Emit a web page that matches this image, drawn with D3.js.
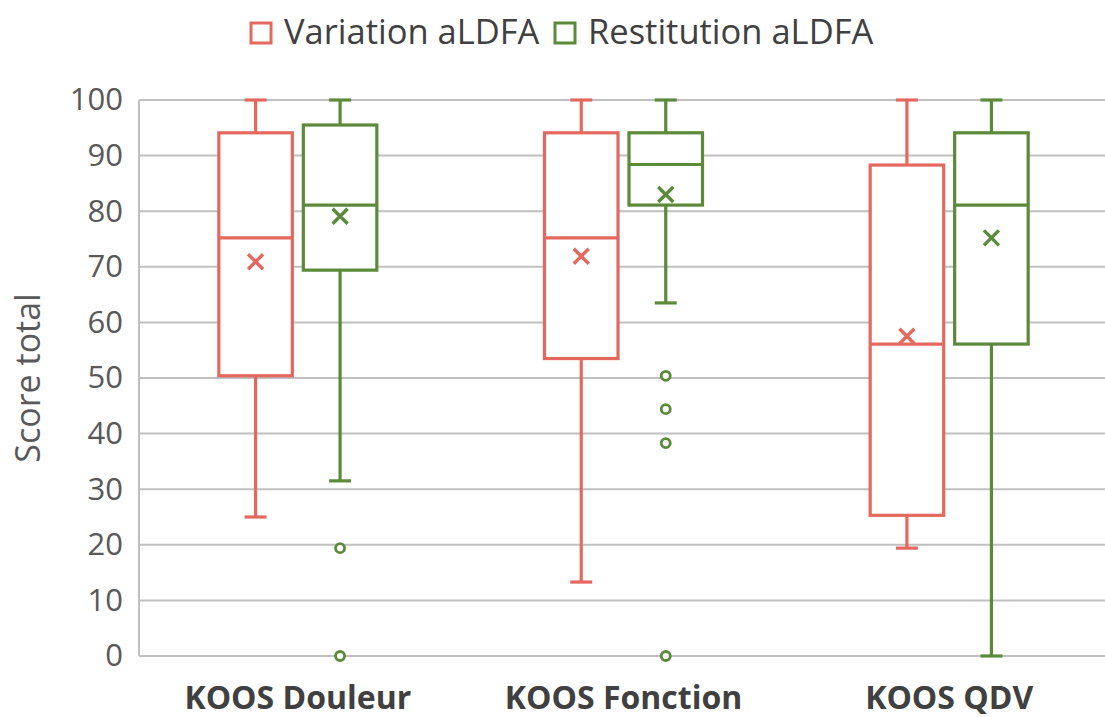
<!DOCTYPE html>
<html><head><meta charset="utf-8">
<script src="https://cdn.jsdelivr.net/npm/d3@7"></script>
<style>body{margin:0;background:#fff;} svg{display:block;}</style>
</head><body>
<script>
const categories = ["KOOS Douleur", "KOOS Fonction", "KOOS QDV"];
const seriesNames = ["Variation aLDFA", "Restitution aLDFA"];
const seriesColors = ["#E5685F", "#5A8A3A"];
// [min whisker, Q1, median, Q3, max whisker]
const variationStats = [[25, 50.4, 75.2, 94.1, 100], [13.3, 53.5, 75.2, 94.1, 100], [19.4, 25.3, 56.1, 88.3, 100]];
const restitutionStats = [[31.5, 69.4, 81.1, 95.5, 100], [63.5, 81.1, 88.4, 94.1, 100], [0, 56.1, 81.1, 94.1, 100]];
const variationMeans = [70.9, 71.9, 57.5];
const restitutionMeans = [79.1, 83.0, 75.2];
const variationOutliers = [[], [], []];
const restitutionOutliers = [[19.4, 0], [50.4, 44.4, 38.3, 0], []];
const yTicks = [0, 10, 20, 30, 40, 50, 60, 70, 80, 90, 100];

const W = 1105, H = 717;
const FONT = "'Open Sans', 'Noto Sans', sans-serif";
const svg = d3.select("body").append("svg").attr("width", W).attr("height", H)
  .style("font-family", FONT);

const x = d3.scaleBand().domain(categories).range([135, 1112]).padding(0);
const y = d3.scaleLinear().domain([0, 100]).range([656, 100]);
const half = 79;
const sub = d3.scaleBand().domain(seriesNames)
  .range([x.bandwidth() / 2 - half, x.bandwidth() / 2 + half]).paddingInner(0.13).paddingOuter(0);

// gridlines
svg.append("g").selectAll("line").data(yTicks).join("line")
  .attr("x1", 139).attr("x2", W).attr("y1", d => y(d)).attr("y2", d => y(d))
  .attr("stroke", "#c0c0c0").attr("stroke-width", 2);
// y axis line
svg.append("line").attr("x1", 139).attr("x2", 139).attr("y1", y(100)).attr("y2", y(0))
  .attr("stroke", "#c0c0c0").attr("stroke-width", 2);

// y tick labels
const yAxis = d3.axisLeft(y).tickValues(yTicks).tickSize(0).tickPadding(16);
const ya = svg.append("g").attr("transform", "translate(139,0)").call(yAxis);
ya.select(".domain").remove();
ya.selectAll("text").attr("font-size", 31).attr("fill", "#595959").style("font-family", FONT);

// y title
svg.append("text").attr("transform", `translate(40,${y(50)}) rotate(-90)`)
  .attr("text-anchor", "middle").attr("font-size", 34).attr("fill", "#595959").text("Score total");

// x labels
const xAxis = d3.axisBottom(x).tickSize(0).tickPadding(30);
const xa = svg.append("g").attr("transform", `translate(0,${y(0)})`).call(xAxis);
xa.select(".domain").remove();
xa.selectAll("text").attr("font-size", 32).attr("font-weight", "bold").attr("fill", "#404040")
  .style("font-family", FONT);

const allStats = [variationStats, restitutionStats];
const allMeans = [variationMeans, restitutionMeans];
const allOut = [variationOutliers, restitutionOutliers];

seriesNames.forEach((s, si) => {
  const col = seriesColors[si];
  const g = svg.append("g").attr("stroke", col).attr("fill", "none").attr("stroke-width", 3.2);
  categories.forEach((c, ci) => {
    const st = allStats[si][ci];
    const x0 = x(c) + sub(s), bw = sub.bandwidth(), cx = x0 + bw / 2;
    // whiskers
    g.append("line").attr("x1", cx).attr("x2", cx).attr("y1", y(st[0])).attr("y2", y(st[1]));
    g.append("line").attr("x1", cx).attr("x2", cx).attr("y1", y(st[3])).attr("y2", y(st[4]));
    g.append("line").attr("x1", cx - 11).attr("x2", cx + 11).attr("y1", y(st[0])).attr("y2", y(st[0]));
    g.append("line").attr("x1", cx - 11).attr("x2", cx + 11).attr("y1", y(st[4])).attr("y2", y(st[4]));
    // box
    g.append("rect").attr("x", x0).attr("width", bw).attr("y", y(st[3])).attr("height", y(st[1]) - y(st[3]))
      .attr("fill", "#fff");
    g.append("line").attr("x1", x0).attr("x2", x0 + bw).attr("y1", y(st[2])).attr("y2", y(st[2]));
    // mean X
    const my = y(allMeans[si][ci]), r = 7.5;
    g.append("path").attr("d", `M${cx - r},${my - r}L${cx + r},${my + r}M${cx - r},${my + r}L${cx + r},${my - r}`)
      .attr("stroke-width", 3.4);
    // outliers
    allOut[si][ci].forEach(v => {
      g.append("circle").attr("cx", cx).attr("cy", y(v)).attr("r", 4.5).attr("fill", "#fff").attr("stroke-width", 2.8);
    });
  });
});

// legend
const legendItems = [{name: seriesNames[0], x: 251}, {name: seriesNames[1], x: 555}];
legendItems.forEach((d, i) => {
  svg.append("rect").attr("x", d.x).attr("y", 23).attr("width", 20).attr("height", 20)
    .attr("fill", "#fff").attr("stroke", seriesColors[i]).attr("stroke-width", 3);
  svg.append("text").attr("x", d.x + 33).attr("y", 44).attr("font-size", 34.5).attr("fill", "#404040").text(d.name);
});
</script>
</body></html>
